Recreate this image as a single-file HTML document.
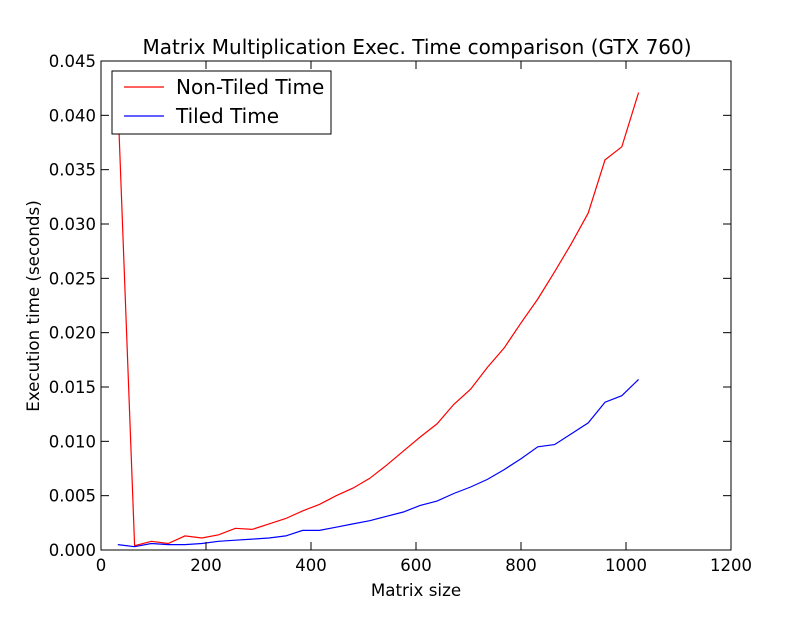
<!DOCTYPE html>
<html><head><meta charset="utf-8"><style>
body{margin:0;background:#fff;width:812px;height:612px;overflow:hidden}
text{font-family:"DejaVu Sans","Liberation Sans",sans-serif;fill:#000}
</style></head><body>
<svg id="chart" width="812" height="612" xmlns="http://www.w3.org/2000/svg">
<rect width="812" height="612" fill="#fff"/>
<path id="redline" fill="none" stroke="#ff0000" stroke-width="1.2"/>
<path id="blueline" fill="none" stroke="#0000ff" stroke-width="1.2"/>
<rect x="101" y="61" width="630" height="489" fill="none" stroke="#000" stroke-width="1"/>
<g id="ticks"></g>
<text x="417" y="54" font-size="20" text-anchor="middle">Matrix Multiplication Exec. Time comparison (GTX 760)</text>
<text x="416" y="596" font-size="16.7" text-anchor="middle">Matrix size</text>
<text x="39" y="306" font-size="16.7" text-anchor="middle" transform="rotate(-90 39 306)">Execution time (seconds)</text>
<g>
<rect x="112" y="71" width="219" height="63" fill="#fff" stroke="#000" stroke-width="1"/>
<line x1="124" y1="87" x2="164" y2="87" stroke="#ff0000" stroke-width="1.2"/>
<text x="176" y="94" font-size="20">Non-Tiled Time</text>
<line x1="124" y1="116" x2="164" y2="116" stroke="#0000ff" stroke-width="1.2"/>
<text x="176" y="123" font-size="20">Tiled Time</text>
</g>
</svg>
<script>
const sizes=[32,64,96,128,160,192,224,256,288,320,352,384,416,448,480,512,544,576,608,640,672,704,736,768,800,832,864,896,928,960,992,1024];
const nonTiled=[0.0415,0.0004,0.0008,0.0006,0.0013,0.0011,0.0014,0.0020,0.0019,0.0024,0.0029,0.0036,0.0042,0.0050,0.0057,0.0066,0.0078,0.0091,0.0104,0.0116,0.0134,0.0148,0.0168,0.0186,0.0209,0.0231,0.0256,0.0282,0.0310,0.0359,0.0371,0.0421];
const tiled=[0.0005,0.0003,0.0006,0.0005,0.0005,0.0006,0.0008,0.0009,0.0010,0.0011,0.0013,0.0018,0.0018,0.0021,0.0024,0.0027,0.0031,0.0035,0.0041,0.0045,0.0052,0.0058,0.0065,0.0074,0.0084,0.0095,0.0097,0.0107,0.0117,0.0136,0.0142,0.0157];
const xTicks=[0,200,400,600,800,1000,1200];
const yTicks=[0,0.005,0.01,0.015,0.02,0.025,0.03,0.035,0.04,0.045];
const X=v=>101+v/1200*630, Y=v=>550-v/0.045*489;
const NS="http://www.w3.org/2000/svg";
function path(vals){return vals.map((v,i)=>(i?'L':'M')+X(sizes[i]).toFixed(1)+' '+Y(v).toFixed(1)).join(' ');}
document.getElementById('redline').setAttribute('d',path(nonTiled));
document.getElementById('blueline').setAttribute('d',path(tiled));
const g=document.getElementById('ticks');
function mk(tag,attrs,txt){const e=document.createElementNS(NS,tag);for(const k in attrs)e.setAttribute(k,attrs[k]);if(txt!==undefined)e.textContent=txt;g.appendChild(e);return e;}
xTicks.forEach(t=>{const x=X(t);
 const a=mk('line',{x1:x,y1:550,x2:x,y2:542,stroke:'#000'});
 
 
 mk('line',{x1:x,y1:61,x2:x,y2:69,stroke:'#000'});
 const l=mk('text',{x:x,y:571,'font-size':16.5,'text-anchor':'middle'},String(t));
 
 
});
yTicks.forEach(t=>{const y=Y(t);
 const a=mk('line',{x1:101,y1:y,x2:109,y2:y,stroke:'#000'});
 
 
 mk('line',{x1:731,y1:y,x2:723,y2:y,stroke:'#000'});
 const l=mk('text',{x:96,y:y+6,'font-size':16.5,'text-anchor':'end'},t.toFixed(3));
 
 
});
</script>
</body></html>
